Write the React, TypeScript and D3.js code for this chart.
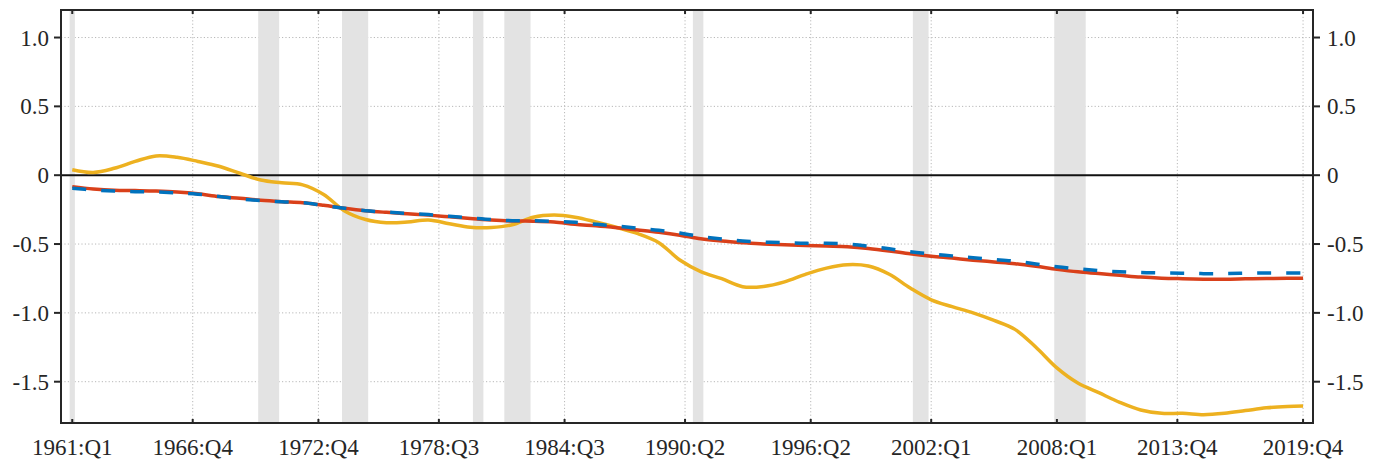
import React from "react";
import * as d3 from "d3";

// sample dates (one per year, plus the last quarter)
const quarters = [
  "1961:Q1", "1962:Q1", "1963:Q1", "1964:Q1", "1965:Q1", "1966:Q1", "1967:Q1", "1968:Q1",
  "1969:Q1", "1970:Q1", "1971:Q1", "1972:Q1", "1973:Q1", "1974:Q1", "1975:Q1", "1976:Q1",
  "1977:Q1", "1978:Q1", "1979:Q1", "1980:Q1", "1981:Q1", "1982:Q1", "1983:Q1", "1984:Q1",
  "1985:Q1", "1986:Q1", "1987:Q1", "1988:Q1", "1989:Q1", "1990:Q1", "1991:Q1", "1992:Q1",
  "1993:Q1", "1994:Q1", "1995:Q1", "1996:Q1", "1997:Q1", "1998:Q1", "1999:Q1", "2000:Q1",
  "2001:Q1", "2002:Q1", "2003:Q1", "2004:Q1", "2005:Q1", "2006:Q1", "2007:Q1", "2008:Q1",
  "2009:Q1", "2010:Q1", "2011:Q1", "2012:Q1", "2013:Q1", "2014:Q1", "2015:Q1", "2016:Q1",
  "2017:Q1", "2018:Q1", "2019:Q1", "2019:Q4",
];

const yellowSeries = [
  0.04, 0.02, 0.05, 0.1, 0.14, 0.13, 0.1, 0.065,
  0.014, -0.035, -0.055, -0.07, -0.14, -0.26, -0.322, -0.345,
  -0.34, -0.325, -0.352, -0.378, -0.38, -0.36, -0.305, -0.29,
  -0.305, -0.34, -0.38, -0.425, -0.49, -0.616, -0.7, -0.752,
  -0.81, -0.808, -0.775, -0.72, -0.675, -0.65, -0.66, -0.72,
  -0.82, -0.905, -0.955, -1.0, -1.055, -1.12, -1.25, -1.4,
  -1.51, -1.58, -1.65, -1.706, -1.73, -1.73, -1.74, -1.73,
  -1.71, -1.69, -1.68, -1.677,
];

const redSeries = [
  -0.083, -0.1, -0.11, -0.112, -0.115, -0.122, -0.135, -0.155,
  -0.168, -0.182, -0.192, -0.2, -0.218, -0.24, -0.258, -0.27,
  -0.28, -0.29, -0.302, -0.315, -0.326, -0.333, -0.334, -0.34,
  -0.357, -0.368, -0.382, -0.398, -0.415, -0.436, -0.462, -0.478,
  -0.49, -0.5, -0.505, -0.51, -0.515, -0.52, -0.532, -0.55,
  -0.571, -0.588, -0.602, -0.617, -0.63, -0.643, -0.662, -0.684,
  -0.702, -0.714, -0.727, -0.74, -0.748, -0.752, -0.755, -0.756,
  -0.753, -0.75, -0.749, -0.749,
];

const blueSeries = [
  -0.095, -0.107, -0.115, -0.12, -0.122, -0.128, -0.138, -0.155,
  -0.172, -0.184, -0.193, -0.2, -0.22, -0.24, -0.258, -0.268,
  -0.277, -0.286, -0.298, -0.31, -0.322, -0.33, -0.331, -0.335,
  -0.342, -0.356, -0.37, -0.385, -0.4, -0.42, -0.445, -0.463,
  -0.478, -0.486, -0.49, -0.495, -0.495, -0.5, -0.515, -0.535,
  -0.556, -0.572, -0.586, -0.6, -0.612, -0.625, -0.645, -0.665,
  -0.68, -0.693, -0.702, -0.707, -0.71, -0.712, -0.715, -0.715,
  -0.712, -0.71, -0.71, -0.71,
];

// recession quarters (first, last)
const recessions = [
  ["1961:Q1", "1961:Q1"],
  ["1970:Q1", "1970:Q4"],
  ["1974:Q1", "1975:Q1"],
  ["1980:Q2", "1980:Q3"],
  ["1981:Q4", "1982:Q4"],
  ["1990:Q4", "1991:Q1"],
  ["2001:Q2", "2001:Q4"],
  ["2008:Q1", "2009:Q2"],
];

const xTickLabels = [
  "1961:Q1", "1966:Q4", "1972:Q4", "1978:Q3", "1984:Q3", "1990:Q2",
  "1996:Q2", "2002:Q1", "2008:Q1", "2013:Q4", "2019:Q4",
];
const yTicks = [1, 0.5, 0, -0.5, -1, -1.5];

const W = 1383;
const H = 464;
const left = 61, right = 1313, top = 10, bottom = 423;

// quarter string -> quarters since 1961:Q1
const qIndex = (s: string) => {
  const [y, q] = s.split(":Q");
  return (+y - 1961) * 4 + (+q - 1);
};

const FONT =
  "'Liberation Serif', 'Noto Serif', 'DejaVu Serif', FreeSerif, 'Nimbus Roman', Times, serif";
const INK = "#262626";

export default function App() {
  const x = d3.scaleLinear().domain([-2.15, 236.9]).range([left, right]);
  const y = d3.scaleLinear().domain([-1.8, 1.2]).range([bottom, top]);

  const line = d3
    .line<number>()
    .x((_, i) => x(qIndex(quarters[i])))
    .y((d) => y(d))
    .curve(d3.curveCatmullRom.alpha(0.5));

  const fmt = (v: number) => (v === 0 ? "0" : v.toFixed(1));
  const txt = { fontFamily: FONT, fontSize: 23, fill: INK };

  return (
    <svg
      width={W}
      height={H}
      style={{ position: "absolute", left: 0, top: 0, background: "#fff" }}
    >
      {/* grid */}
      <g stroke="#b8b8b8" strokeWidth={1} strokeDasharray="1.2 2.2">
        {yTicks
          .filter((t) => t !== 0)
          .map((t) => (
            <line key={"gy" + t} x1={left} x2={right} y1={y(t)} y2={y(t)} />
          ))}
        {xTickLabels.map((l) => (
          <line key={"gx" + l} x1={x(qIndex(l))} x2={x(qIndex(l))} y1={top} y2={bottom} />
        ))}
      </g>

      {/* recession bands */}
      <g fill="#e3e3e3">
        {recessions.map(([a, b]) => (
          <rect
            key={a}
            x={x(qIndex(a) - 0.5)}
            width={x(qIndex(b) + 0.5) - x(qIndex(a) - 0.5)}
            y={top}
            height={bottom - top}
          />
        ))}
      </g>

      {/* zero line */}
      <line x1={left} x2={right} y1={y(0)} y2={y(0)} stroke="#111" strokeWidth={2} />

      {/* series */}
      <path d={line(yellowSeries) || ""} fill="none" stroke="#EDB120" strokeWidth={3.5} />
      <path d={line(redSeries) || ""} fill="none" stroke="#D9401A" strokeWidth={3.5} />
      <path
        d={line(blueSeries) || ""}
        fill="none"
        stroke="#0072BD"
        strokeWidth={3.5}
        strokeDasharray="14 15"
      />

      {/* frame */}
      <rect
        x={left}
        y={top}
        width={right - left}
        height={bottom - top}
        fill="none"
        stroke={INK}
        strokeWidth={2}
      />

      {/* y ticks left + right */}
      {yTicks.map((t) => (
        <g key={"yt" + t}>
          <line x1={left - 7} x2={left} y1={y(t)} y2={y(t)} stroke={INK} strokeWidth={2} />
          <line x1={right} x2={right + 7} y1={y(t)} y2={y(t)} stroke={INK} strokeWidth={2} />
          <text x={49} y={y(t)} dy="0.35em" textAnchor="end" style={txt}>
            {fmt(t)}
          </text>
          <text x={1327} y={y(t)} dy="0.35em" textAnchor="start" style={txt}>
            {fmt(t)}
          </text>
        </g>
      ))}

      {/* x ticks bottom + top */}
      {xTickLabels.map((l) => {
        const px = x(qIndex(l));
        return (
          <g key={"xt" + l}>
            <line x1={px} x2={px} y1={bottom} y2={bottom - 4} stroke={INK} strokeWidth={2} />
            <line x1={px} x2={px} y1={top} y2={top + 4} stroke={INK} strokeWidth={2} />
            <text x={px} y={455} textAnchor="middle" style={txt}>
              {l}
            </text>
          </g>
        );
      })}
    </svg>
  );
}
